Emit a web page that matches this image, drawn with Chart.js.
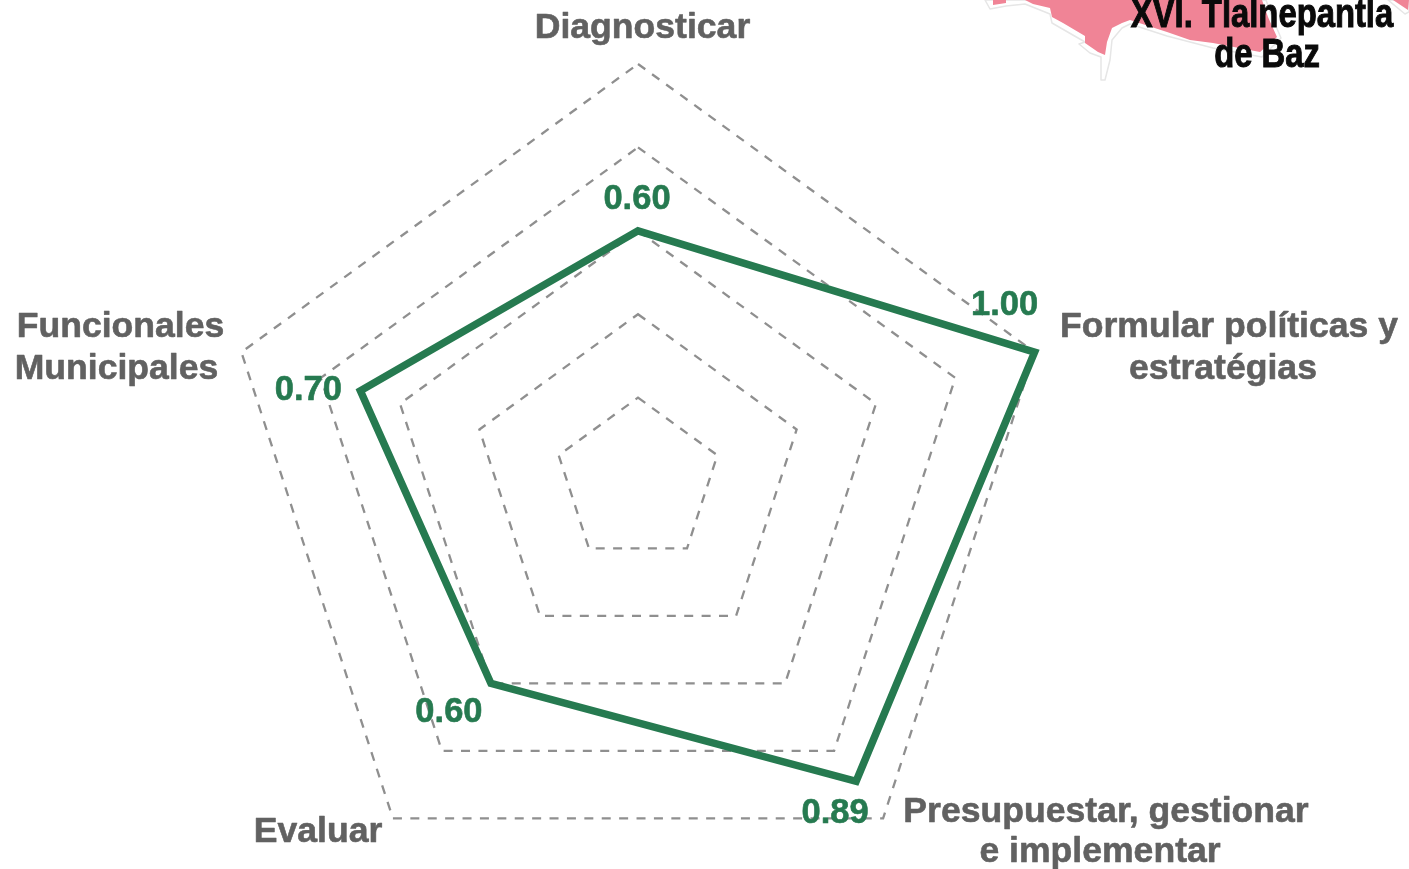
<!DOCTYPE html>
<html>
<head>
<meta charset="utf-8">
<script src="https://cdn.jsdelivr.net/npm/chart.js@4"></script>
<style>
html, body { margin: 0; padding: 0; background: #fff; overflow: hidden; width: 1409px; height: 869px; }
#map { position: absolute; left: 0; top: 0; }
#radar { position: absolute; left: 0; top: 0; }
.region { position: absolute; width: 400px; font: bold 40px/40px "Liberation Sans", sans-serif; color: #0a0a0a; white-space: nowrap; text-align: center; -webkit-text-stroke: 1px #0a0a0a; transform: scaleX(0.82); }
</style>
</head>
<body>
<svg id="map" width="1409" height="869">
	<!-- corner of the state map behind the region name -->
	<g stroke-linejoin="round">
		<path d="M985,0 L990,9 L1006,6 L1025,4 L1050,14 L1052,23 L1085,42 L1079,44 L1090,53 L1101,57 L1101,80 L1105,80 L1110,60 L1112,40 L1122,28 L1130,24 L1167,36 L1213,48 L1262,57 L1281,38 L1272,17 L1266,0 Z" fill="#fff" stroke="#e6e6e6" stroke-width="1.5"/>
		<path d="M1388,0 L1405,14 L1409,12 L1409,0 Z" fill="#fff" stroke="#e6e6e6" stroke-width="1.5"/>
		<path d="M993,5 L1006,3 L1006,0 L993,0 Z" fill="#f08496"/>
		<path d="M1025,0 L1033,4 L1050,8 L1052,17 L1063,23 L1085,36 L1085,43 L1098,52 L1105,55 L1107,42 L1112,28 L1122,23 L1130,20 L1167,32 L1190,40 L1213,43 L1260,52 L1277,37 L1268,17 L1262,0 Z" fill="#f08496"/>
		<path d="M1393,0 L1408,10 L1409,0 Z" fill="#f08496"/>
	</g>
</svg>
<canvas id="radar" width="1409" height="900"></canvas>
<div class="region" style="left:1062px; top:-7px;">XVI. Tlalnepantla</div>
<div class="region" style="left:1067px; top:33px;">de Baz</div>
<script>
"use strict";

var categories = [
	["Diagnosticar"],
	["Formular políticas y", "estratégias"],
	["Presupuestar, gestionar", "e implementar"],
	["Evaluar"],
	["Funcionales", "Municipales"]
];
var values = [0.60, 1.00, 0.89, 0.60, 0.70];
var tickValues = [0, 0.2, 0.4, 0.6, 0.8, 1];

// where the texts sit, one [centre x, baseline y] per line
var categoryLines = [
	[[642.5, 38]],
	[[1229, 337], [1223, 379]],
	[[1106, 822], [1100, 862]],
	[[318, 842]],
	[[120.5, 337], [116.5, 379]]
];
// value label offset from its point
var valueOffsets = [[-1, -22], [-30, -37], [-21, 42], [-42, 39], [-52, 9]];

var textPlugin = {
	id: "radarTexts",
	afterDraw: function(chart) {
		var ctx = chart.ctx;
		var scale = chart.scales.r;
		ctx.save();
		ctx.textAlign = "center";
		ctx.textBaseline = "alphabetic";
		ctx.lineJoin = "round";
		ctx.lineWidth = 0.6;
		ctx.font = "bold 35.6px 'Liberation Sans', Arial, sans-serif";
		ctx.fillStyle = ctx.strokeStyle = "#616161";
		categories.forEach(function(lines, i) {
			lines.forEach(function(line, j) {
				ctx.fillText(line, categoryLines[i][j][0], categoryLines[i][j][1]);
				ctx.strokeText(line, categoryLines[i][j][0], categoryLines[i][j][1]);
			});
		});
		ctx.font = "bold 34.5px 'Liberation Sans', Arial, sans-serif";
		ctx.fillStyle = ctx.strokeStyle = "#267a50";
		values.forEach(function(v, i) {
			var p = scale.getPointPosition(i, scale.getDistanceFromCenterForValue(v));
			ctx.fillText(v.toFixed(2), p.x + valueOffsets[i][0], p.y + valueOffsets[i][1]);
			ctx.strokeText(v.toFixed(2), p.x + valueOffsets[i][0], p.y + valueOffsets[i][1]);
		});
		ctx.restore();
	}
};

new Chart(document.getElementById("radar").getContext("2d"), {
	type: "radar",
	data: {
		labels: categories,
		datasets: [{
			data: values,
			borderColor: "#267a50",
			borderWidth: 7.5,
			borderJoinStyle: "miter",
			backgroundColor: "transparent",
			fill: false,
			tension: 0,
			pointRadius: 0
		}]
	},
	plugins: [textPlugin],
	options: {
		responsive: false,
		animation: false,
		layout: { padding: { left: 221, right: 354, top: 64, bottom: 2 } },
		plugins: { legend: { display: false }, tooltip: { enabled: false } },
		scales: {
			r: {
				min: 0,
				max: 1,
				afterBuildTicks: function(axis) {
					axis.ticks = tickValues.map(function(v) { return { value: v }; });
				},
				angleLines: { display: false },
				pointLabels: { display: false },
				ticks: { display: false },
				grid: { circular: false, color: "#8f8f8f", lineWidth: 2.3 },
				border: { dash: [9, 8.4] }
			}
		}
	}
});
</script>
</body>
</html>
